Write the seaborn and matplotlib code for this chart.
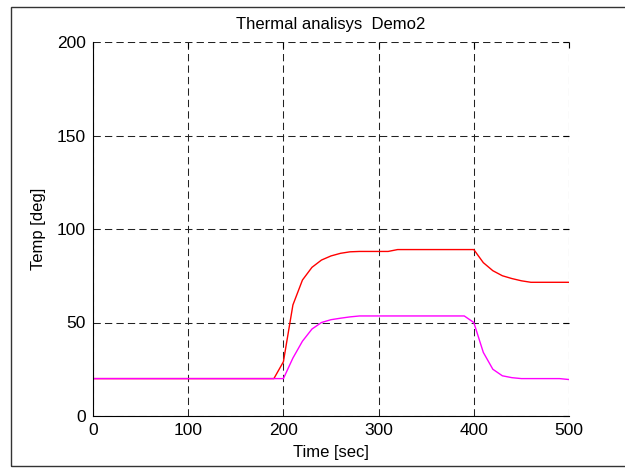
import matplotlib
matplotlib.use("Agg")
import matplotlib.pyplot as plt
from matplotlib.patches import Rectangle
import seaborn as sns
import pandas as pd

# ---- data ----
time_sec = [0, 10, 20, 30, 40, 50, 60, 70, 80, 90, 100, 110, 120, 130, 140, 150, 160, 170, 180, 190,
            200, 210, 220, 230, 240, 250, 260, 270, 280, 290, 300, 310, 320, 330, 340, 350, 360, 370,
            380, 390, 400, 410, 420, 430, 440, 450, 460, 470, 480, 490, 500]
temp_red = [20, 20, 20, 20, 20, 20, 20, 20, 20, 20, 20, 20, 20, 20, 20, 20, 20, 20, 20, 20,
            29, 59.4, 72.7, 79.5, 83.4, 85.6, 87, 87.8, 88, 88, 88, 88, 89, 89, 89, 89, 89, 89,
            89, 89, 89, 82, 77.7, 75, 73.5, 72.3, 71.5, 71.5, 71.5, 71.5, 71.5]
temp_mag = [20, 20, 20, 20, 20, 20, 20, 20, 20, 20, 20, 20, 20, 20, 20, 20, 20, 20, 20, 20,
            20, 31, 40, 46.5, 50, 51.5, 52.3, 53, 53.5, 53.5, 53.5, 53.5, 53.5, 53.5, 53.5, 53.5, 53.5, 53.5,
            53.5, 53.5, 50, 34, 25, 21.5, 20.5, 20, 20, 20, 20, 20, 19.5]
x_ticks = [0, 100, 200, 300, 400, 500]
y_ticks = [0, 50, 100, 150, 200]
title = "Thermal analisys  Demo2"
xlabel = "Time [sec]"
ylabel = "Temp [deg]"

df = pd.DataFrame({
    "t": time_sec * 2,
    "T": temp_red + temp_mag,
    "s": ["red"] * len(time_sec) + ["mag"] * len(time_sec),
})

sns.set_style("white")
plt.rcParams["font.family"] = ["Liberation Sans", "DejaVu Sans"]
plt.rcParams["text.color"] = "black"
plt.rcParams["axes.labelcolor"] = "black"

fig = plt.figure(figsize=(6.25, 4.7), dpi=100)
ax = fig.add_axes([93 / 625, 1 - 416 / 470, (569 - 93) / 625, (416 - 42) / 470])

sns.lineplot(data=df, x="t", y="T", hue="s", palette={"red": "#ff0000", "mag": "#ff00ff"},
             linewidth=1.0, legend=False, ax=ax, sort=False, estimator=None)

ax.set_xlim(0, 500)
ax.set_ylim(0, 200)
ax.set_xticks(x_ticks)
ax.set_yticks(y_ticks)
ax.grid(True, color="#222222", linestyle=(0, (7, 4)), linewidth=0.75)
ax.set_axisbelow(True)
for side in ["top", "right"]:
    ax.spines[side].set_visible(False)
for side in ["left", "bottom"]:
    ax.spines[side].set_color("black")
    ax.spines[side].set_linewidth(0.8)
ax.tick_params(direction="in", length=4, width=0.8, top=True, right=True,
               labelsize=12.5, colors="black", pad=5)
ax.set_title(title, fontsize=12, pad=9, color="black")
ax.set_xlabel(xlabel, fontsize=12, labelpad=5, color="black")
ax.set_ylabel(ylabel, fontsize=12, labelpad=8, color="black")

fig.add_artist(Rectangle((11 / 625, 1 - 466 / 470), 1.0, (466 - 7) / 470,
                         transform=fig.transFigure, fill=False, edgecolor="#333333", linewidth=1.0))

fig.savefig("out.png", dpi=100)
